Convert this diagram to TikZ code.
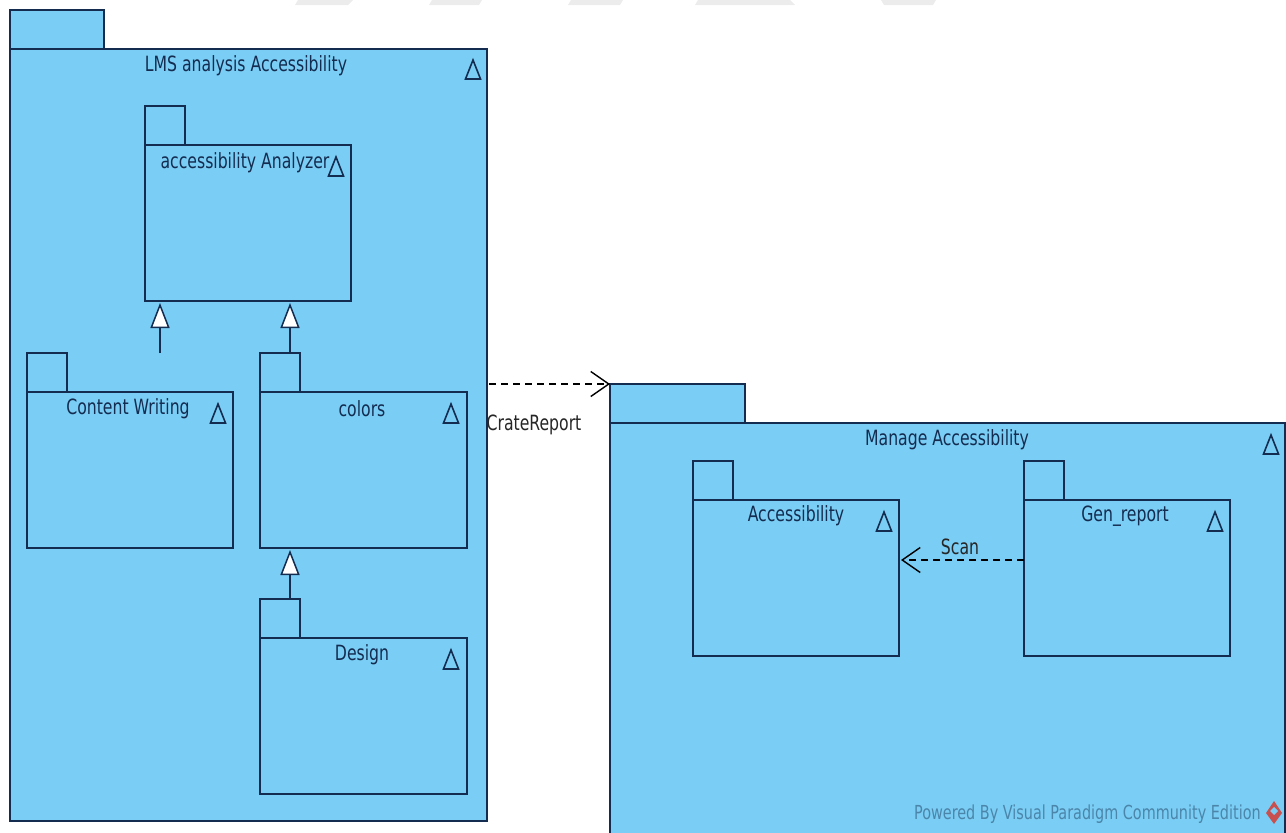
\documentclass[tikz,border=0pt]{standalone}
\usepackage{fontspec}
\setmainfont[FakeStretch=0.83]{DejaVu Sans Condensed}
\usetikzlibrary{calc,arrows.meta}
\definecolor{pkgblue}{HTML}{7ACDF4}
\definecolor{pkgline}{HTML}{142C50}
\definecolor{wmred}{HTML}{C8504F}
\tikzset{
    pkg/.style={draw=pkgline,fill=pkgblue,line width=1.7pt,anchor=north west,inner sep=0pt,outer sep=0pt},
    pkgtitle/.style={text=pkgline,font=\fontsize{21}{23}\selectfont,inner sep=0pt},
    lbl/.style={text=black!85,font=\fontsize{21}{23}\selectfont,inner sep=0pt},
    gen/.style={draw=pkgline,line width=1.5pt,-{Triangle[length=25pt,width=19pt,fill=white]}},
    dep/.style={draw=black,line width=1.4pt,dash pattern=on 7pt off 5pt,-{Straight Barb[length=18pt,width=25pt,line width=1.4pt]}},
    pkgmark/.pic={\draw[pkgline,line width=1.6pt] (-7.5,9) -- (7.5,9) -- (0,-10) -- cycle;}
}
\begin{document}
\begin{tikzpicture}[x=1pt,y=-1pt]
        \useasboundingbox (0,0) rectangle (1286,833);

        % faint marks along the top edge
        \fill[gray!15] (298,0) -- (353,0) -- (348,5) -- (295,5) -- cycle;
        \fill[gray!15] (432,0) -- (482,0) -- (479,5) -- (429,5) -- cycle;
        \fill[gray!15] (571,0) -- (623,0) -- (620,5) -- (568,5) -- cycle;
        \fill[gray!15] (698,0) -- (790,0) -- (795,5) -- (695,5) -- cycle;
        \fill[gray!15] (881,0) -- (936,0) -- (933,5) -- (884,5) -- cycle;

        % LMS analysis Accessibility
        \node[pkg,minimum width=94pt,minimum height=39pt] (lmstab) at (10,10) {};
        \node[pkg,minimum width=477pt,minimum height=772pt] (lms) at (10,49) {};
        \node[pkgtitle] (lmstitle) at (246,66) {LMS analysis Accessibility};
        \pic at (473,70) {pkgmark};

        % accessibility Analyzer
        \node[pkg,minimum width=40pt,minimum height=39pt] (analyzertab) at (145,106) {};
        \node[pkg,minimum width=206pt,minimum height=156pt] (analyzer) at (145,145) {};
        \node[pkgtitle] (analyzertitle) at (245,163) {accessibility Analyzer};
        \pic at (336,167) {pkgmark};

        % Content Writing
        \node[pkg,minimum width=40pt,minimum height=39pt] (writingtab) at (27,353) {};
        \node[pkg,minimum width=206pt,minimum height=156pt] (writing) at (27,392) {};
        \node[pkgtitle] (writingtitle) at (128,409) {Content Writing};
        \pic at (218,414) {pkgmark};

        % colors
        \node[pkg,minimum width=40pt,minimum height=39pt] (colorstab) at (260,353) {};
        \node[pkg,minimum width=207pt,minimum height=156pt] (colors) at (260,392) {};
        \node[pkgtitle] (colorstitle) at (362,409) {colors};
        \pic at (451,414) {pkgmark};

        % Design
        \node[pkg,minimum width=40pt,minimum height=39pt] (designtab) at (260,599) {};
        \node[pkg,minimum width=207pt,minimum height=156pt] (design) at (260,638) {};
        \node[pkgtitle] (designtitle) at (362,655) {Design};
        \pic at (451,660) {pkgmark};

        % Manage Accessibility
        \node[pkg,minimum width=135pt,minimum height=39pt] (managetab) at (610,384) {};
        \node[pkg,minimum width=675pt,minimum height=420pt] (manage) at (610,423) {};
        \node[pkgtitle] (managetitle) at (947,440) {Manage Accessibility};
        \pic at (1271,445) {pkgmark};

        % Accessibility
        \node[pkg,minimum width=40pt,minimum height=39pt] (accesstab) at (693,461) {};
        \node[pkg,minimum width=206pt,minimum height=156pt] (access) at (693,500) {};
        \node[pkgtitle] (accesstitle) at (796,516) {Accessibility};
        \pic at (884,522) {pkgmark};

        % Gen_report
        \node[pkg,minimum width=40pt,minimum height=39pt] (gentab) at (1024,461) {};
        \node[pkg,minimum width=206pt,minimum height=156pt] (gen) at (1024,500) {};
        \node[pkgtitle] (gentitle) at (1125,516) {Gen\_report};
        \pic at (1215,522) {pkgmark};

        % connectors
        \coordinate (writingfoot) at (160,353);
        \draw[gen] (writingfoot) -- (160,303);
        \coordinate (colorsfoot) at (290,353);
        \draw[gen] (colorsfoot) -- (290,303);
        \coordinate (designfoot) at (290,599);
        \draw[gen] (designfoot) -- (290,550);

        \coordinate (reportstart) at (489,384);
        \draw[dep] (reportstart) -- (managetab.north west);
        \node[lbl] (reportlabel) at (534,425) {CrateReport};

        \coordinate (scanstart) at (1024,560);
        \draw[dep,shorten >=2pt] (scanstart) -- (scanstart -| access.east);
        \node[lbl] (scanlabel) at (960,547) {Scan};

        % watermark
        \node[text=pkgline!45!pkgblue,font=\fontsize{19.3}{21}\selectfont,inner sep=0pt,anchor=east] (powered) at (1261,814) {Powered By Visual Paradigm Community Edition};
        \fill[wmred] (1274,801) -- (1282,813) -- (1274,824) -- (1266,813) -- cycle;
        \fill[pkgblue] (1274,807) -- (1278,811) -- (1274,815) -- (1270,811) -- cycle;
    \end{tikzpicture}
\end{document}
